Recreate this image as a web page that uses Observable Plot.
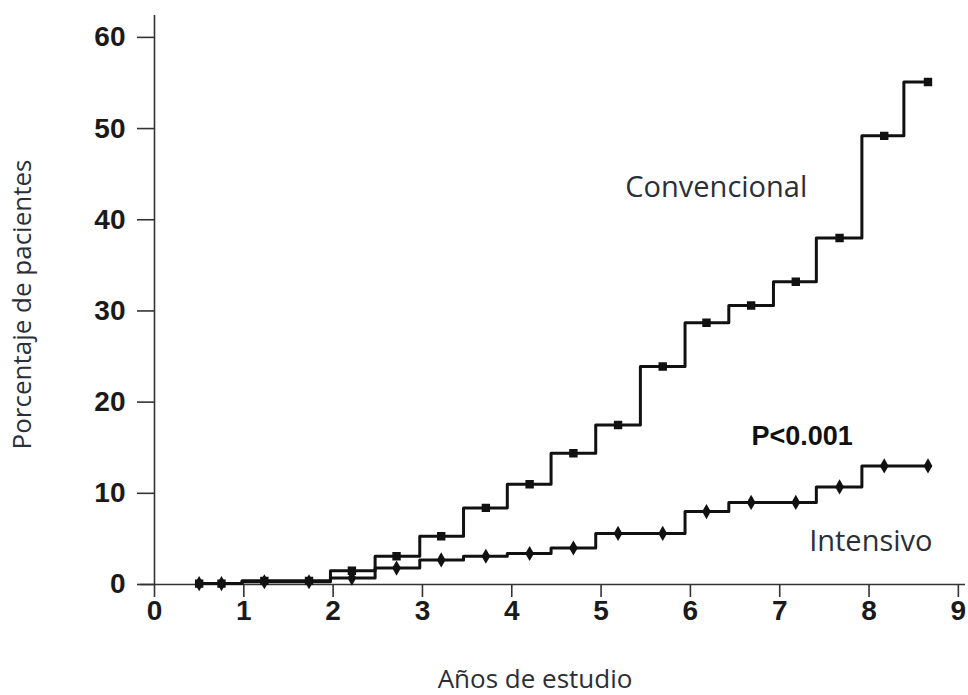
<!DOCTYPE html>
<html>
<head>
<meta charset="utf-8">
<script src="https://cdn.jsdelivr.net/npm/d3@7"></script>
<script src="https://cdn.jsdelivr.net/npm/@observablehq/plot@0.6"></script>
<style>
  html, body { margin: 0; padding: 0; background: #fff; }
</style>
</head>
<body>
<div id="chart"></div>
<script>
// Start time (years) of each step interval
const stepTimes = [0.5, 0.98, 1.97, 2.47, 2.97, 3.46, 3.95, 4.44, 4.94, 5.44, 5.94, 6.43, 6.93, 7.41, 7.92, 8.39];
const endTime = 8.66;
// Cumulative percentage of patients in each interval
const convencional = [0.1, 0.4, 1.5, 3.1, 5.3, 8.4, 11.0, 14.4, 17.5, 23.9, 28.7, 30.6, 33.2, 38.0, 49.2, 55.1];
const intensivo   = [0.1, 0.3, 0.7, 1.8, 2.7, 3.1, 3.4, 4.0, 5.6, 5.6, 8.0, 9.0, 9.0, 10.7, 13.0, 13.0];
// Marker times
const markerTimes = [0.5, 0.75, 1.23, 1.73, 2.21, 2.71, 3.21, 3.71, 4.2, 4.69, 5.19, 5.69, 6.18, 6.68, 7.18, 7.67, 8.17, 8.66];
// Tick labels
const xTicks = [0, 1, 2, 3, 4, 5, 6, 7, 8, 9];
const yTicks = [0, 10, 20, 30, 40, 50, 60];
// Annotations
const seriesLabels = [
  {text: "Convencional", x: 6.29, y: 43.5},
  {text: "Intensivo", x: 8.02, y: 4.7}
];
const pLabel = [{text: "P<0.001", x: 7.25, y: 16.3}];

function lineData(vals) {
  const pts = stepTimes.map((t, i) => ({t, v: vals[i]}));
  pts.push({t: endTime, v: vals[vals.length - 1]});
  return pts;
}
function markerData(vals) {
  return markerTimes.map(t => {
    let idx = 0;
    stepTimes.forEach((s, i) => { if (s <= t + 1e-9) idx = i; });
    return {t, v: vals[idx]};
  });
}

const chart = Plot.plot({
  width: 968,
  height: 695,
  marginLeft: 154,
  marginRight: 3,
  marginTop: 15,
  marginBottom: 111,
  x: {domain: [0, 9.08]},
  y: {domain: [0, 62.4]},
  style: {background: "#fff", color: "#1a1a1a", fontFamily: "Liberation Sans, Arial, sans-serif"},
  marks: [
    Plot.axisY({ticks: yTicks, tickSize: 17, tickPadding: 12, fontSize: 28, fontWeight: "bold", label: null, strokeWidth: 1.6, stroke: "#333"}),
    Plot.axisX({ticks: xTicks, tickSize: 13, tickPadding: 3, fontSize: 28, fontWeight: "bold", label: null, strokeWidth: 1.6, stroke: "#333"}),
    Plot.ruleX([0], {y1: 0, y2: 62.4, stroke: "#333", strokeWidth: 1.6}),
    Plot.ruleY([0], {x1: -0.16, x2: 9.08, stroke: "#333", strokeWidth: 1.6}),
    Plot.line(lineData(intensivo), {x: "t", y: "v", curve: "step-after", stroke: "#111", strokeWidth: 3}),
    Plot.line(lineData(convencional), {x: "t", y: "v", curve: "step-after", stroke: "#111", strokeWidth: 3}),
    Plot.dot(markerData(intensivo), {x: "t", y: "v", symbol: "diamond", r: 4.6, fill: "#111", stroke: "none"}),
    Plot.dot(markerData(convencional), {x: "t", y: "v", symbol: "square", r: 3.9, fill: "#111", stroke: "#111", strokeWidth: 1.5}),
    Plot.text(seriesLabels, {x: "x", y: "y", text: "text", fontSize: 29, fontFamily: "Open Sans", fill: "#2a2f38", textAnchor: "middle", lineAnchor: "middle"}),
    Plot.text(pLabel, {x: "x", y: "y", text: "text", fontSize: 27, fontWeight: "bold", fill: "#111", textAnchor: "middle", lineAnchor: "middle"}),
    Plot.text(["Porcentaje de pacientes"], {frameAnchor: "left", dx: -132, dy: 4.5, rotate: -90, fontSize: 26, fontFamily: "Open Sans", fill: "#2a2f38", textAnchor: "middle", lineAnchor: "middle"}),
    Plot.text(["Años de estudio"], {frameAnchor: "bottom", dx: -25, dy: 95, fontSize: 26, fontFamily: "Open Sans", fill: "#2a2f38", textAnchor: "middle", lineAnchor: "middle"})
  ]
});
document.getElementById("chart").appendChild(chart);
</script>
</body>
</html>
